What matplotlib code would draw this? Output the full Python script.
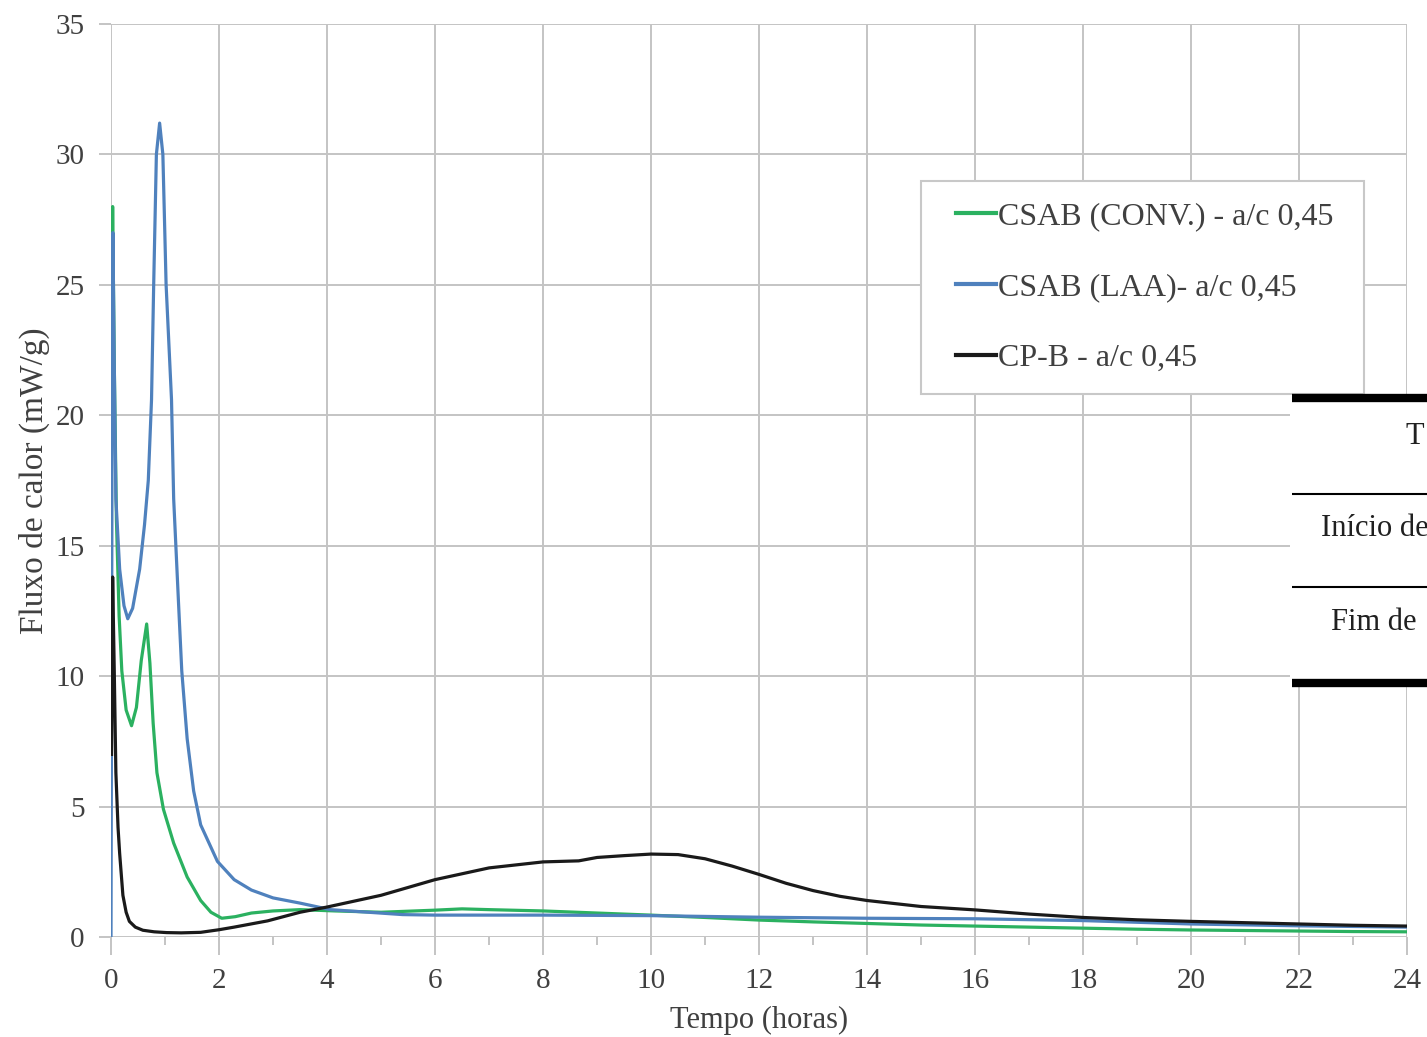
import matplotlib.pyplot as plt
from matplotlib.patches import Rectangle
from matplotlib.lines import Line2D

plt.rcParams['font.family'] = ['Liberation Serif', 'DejaVu Serif']

# Data (tempo em horas, fluxo em mW/g)
t_conv = [0.02, 0.03, 0.06, 0.1, 0.15, 0.2, 0.28, 0.38, 0.47, 0.56, 0.66, 0.72, 0.78,
          0.85, 0.97, 1.16, 1.41, 1.66, 1.85, 2.05, 2.3, 2.6, 3.0, 3.5, 4.15, 5.0,
          6.0, 6.5, 7.0, 8.0, 9.0, 10.0, 11.0, 12.0, 13.0, 14.0, 15.0, 16.0, 17.0,
          18.0, 19.0, 20.0, 21.0, 22.0, 23.0, 24.0]
q_conv = [25.0, 28.0, 22.0, 16.0, 12.3, 10.2, 8.7, 8.1, 8.8, 10.6, 12.0, 10.5, 8.2,
          6.3, 4.9, 3.6, 2.3, 1.4, 0.95, 0.72, 0.78, 0.92, 1.0, 1.05, 1.0, 0.95,
          1.03, 1.08, 1.05, 1.0, 0.92, 0.84, 0.75, 0.65, 0.58, 0.52, 0.46, 0.42, 0.38,
          0.34, 0.3, 0.27, 0.25, 0.23, 0.21, 0.2]

t_laa = [0.0, 0.02, 0.035, 0.06, 0.09, 0.16, 0.24, 0.31, 0.4, 0.53, 0.62, 0.69, 0.75,
         0.79, 0.84, 0.9, 0.96, 1.02, 1.12, 1.16, 1.25, 1.31, 1.41, 1.53, 1.66, 1.97,
         2.28, 2.6, 3.0, 3.5, 4.06, 5.4, 6.0, 8.0, 10.0, 12.0, 14.0, 16.0, 18.0, 20.0,
         22.0, 24.0]
q_laa = [0.0, 20.0, 27.0, 22.0, 16.8, 14.1, 12.7, 12.2, 12.6, 14.1, 15.8, 17.5, 20.6,
         25.0, 30.0, 31.2, 30.0, 25.0, 20.6, 16.8, 12.8, 10.2, 7.6, 5.6, 4.3, 2.9,
         2.2, 1.8, 1.5, 1.3, 1.05, 0.86, 0.84, 0.84, 0.82, 0.76, 0.72, 0.7, 0.63, 0.5,
         0.43, 0.38]

t_cpb = [0.01, 0.03, 0.06, 0.09, 0.13, 0.16, 0.22, 0.28, 0.34, 0.45, 0.59, 0.8, 1.03,
         1.3, 1.66, 2.0, 2.28, 2.9, 3.5, 4.0, 5.0, 6.0, 7.0, 8.0, 8.66, 9.0, 9.5,
         10.0, 10.5, 11.0, 11.5, 12.0, 12.5, 13.0, 13.5, 14.0, 15.0, 16.0, 17.0, 18.0,
         19.0, 20.0, 21.0, 22.0, 23.0, 24.0]
q_cpb = [7.0, 13.8, 10.2, 6.3, 4.2, 3.2, 1.6, 0.95, 0.6, 0.38, 0.26, 0.2, 0.17,
         0.16, 0.18, 0.28, 0.38, 0.62, 0.95, 1.15, 1.6, 2.2, 2.65, 2.88, 2.92, 3.05, 3.12,
         3.18, 3.16, 3.0, 2.72, 2.4, 2.06, 1.78, 1.56, 1.4, 1.17, 1.04, 0.88, 0.75,
         0.66, 0.6, 0.55, 0.5, 0.45, 0.42]

labels = ['CSAB (CONV.) - a/c 0,45', 'CSAB (LAA)- a/c 0,45', 'CP-B - a/c 0,45']
colors = ['#2bb160', '#4f81bd', '#1a1a1a']
# only the visible part of the table that overlaps the chart
table_rows = ['T', 'Início de', 'Fim de']

fig = plt.figure(figsize=(14.27, 10.37), dpi=100)
ax = fig.add_axes([0.0778, 0.0964, 0.9083, 0.8805])

ax.plot(t_conv, q_conv, color=colors[0], lw=2.3, zorder=2)
ax.plot(t_laa, q_laa, color=colors[1], lw=2.3, zorder=3)
ax.plot(t_cpb, q_cpb, color=colors[2], lw=2.3, zorder=4)

ax.set_xlim(0, 24)
ax.set_ylim(0, 35)
ax.set_xticks(range(0, 25, 2))
ax.set_xticks(range(1, 24, 2), minor=True)
ax.set_yticks(range(0, 36, 5))
ax.grid(True, which='major', color='#c4c4c4', lw=1.4)
for s in ax.spines.values():
    s.set_visible(False)
ax.tick_params(axis='x', which='major', length=13, width=1.4, color='#c4c4c4',
               labelsize=21, labelcolor='#404040', pad=9)
ax.tick_params(axis='x', which='minor', length=6, width=1.4, color='#c4c4c4')
ax.tick_params(axis='y', length=9, width=1.4, color='#c4c4c4',
               labelsize=21, labelcolor='#404040', pad=10)
ax.set_xlabel('Tempo (horas)', fontsize=22, color='#404040', labelpad=9)
ax.set_ylabel('Fluxo de calor (mW/g)', fontsize=24, color='#404040', labelpad=4)

# legend box
fig.patches.append(Rectangle((921 / 1427, 1 - 394 / 1037), 443 / 1427, 213 / 1037,
                             transform=fig.transFigure, facecolor='white',
                             edgecolor='#c8c8c8', lw=1.5, zorder=5))
handles = [Line2D([], [], color=c, lw=3) for c in colors]
leg = fig.legend(handles, labels, loc='upper left',
                 bbox_to_anchor=(956 / 1427, 1 - 202 / 1037),
                 frameon=False, fontsize=23, handlelength=1.25, handletextpad=0.05,
                 labelspacing=1.3, borderpad=0, borderaxespad=0)
for txt in leg.get_texts():
    txt.set_color('#404040')
leg.set_zorder(6)

# fragment of the overlapping table on the right
W, H = 1427, 1037
fig.patches.append(Rectangle((1290 / W, 1 - 687 / H), 140 / W, 292 / H,
                             transform=fig.transFigure, facecolor='white',
                             edgecolor='none', zorder=5))
for y, lw in [(398, 6), (494, 1.5), (587, 1.5), (683, 6)]:
    fig.add_artist(Line2D([1292 / W, 1.0], [1 - y / H, 1 - y / H], color='black',
                          lw=lw, zorder=6, solid_capstyle='butt',
                          transform=fig.transFigure))
for (x, y), s in zip([(1405, 437), (1321, 528), (1331, 622)], table_rows):
    fig.text(x / W, 1 - y / H, s, fontsize=22, va='center', ha='left', zorder=7,
             color='#202020')

fig.savefig('out.png', dpi=100)
